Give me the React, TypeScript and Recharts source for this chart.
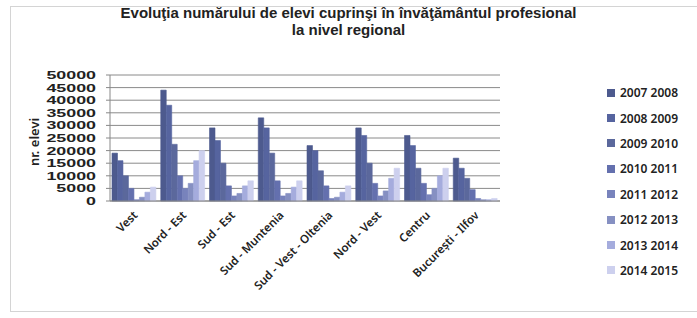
import React from "react";
import { BarChart, Bar, XAxis, YAxis, CartesianGrid, Legend } from "recharts";

const regions = ["Vest", "Nord - Est", "Sud - Est", "Sud - Muntenia", "Sud - Vest - Oltenia", "Nord - Vest", "Centru", "București - Ilfov"];
const years = ["2007 2008", "2008 2009", "2009 2010", "2010 2011", "2011 2012", "2012 2013", "2013 2014", "2014 2015"];
const colors = ["#4d5a8e", "#56649f", "#5b689c", "#6470ae", "#7883bc", "#8690c2", "#a5acdd", "#cdd0ee"];

const y2007 = [19000, 44000, 29000, 33000, 22000, 29000, 26000, 17000];
const y2008 = [16000, 38000, 24000, 29000, 20000, 26000, 22000, 13000];
const y2009 = [10000, 22500, 15000, 19000, 12000, 15000, 13000, 9000];
const y2010 = [5000, 10000, 6000, 8000, 6000, 7000, 7000, 4500];
const y2011 = [500, 5000, 2000, 2000, 1000, 2000, 2500, 1000];
const y2012 = [1500, 7000, 3000, 3000, 1500, 4000, 5000, 500];
const y2013 = [3500, 16000, 6000, 5500, 3500, 9000, 10000, 500];
const y2014 = [5500, 20000, 8000, 8000, 6000, 13000, 13000, 1000];
const series = [y2007, y2008, y2009, y2010, y2011, y2012, y2013, y2014];

const yTicks = [0, 5000, 10000, 15000, 20000, 25000, 30000, 35000, 40000, 45000, 50000];

const data = regions.map((r, i) => {
  const row: any = { region: r };
  series.forEach((s, k) => (row["s" + k] = s[i]));
  return row;
});

const font = "'Liberation Sans', Arial, sans-serif";
const legendFont = "'Noto Sans', 'Open Sans', sans-serif";

const XTick = (props: any) => {
  const { x, y, payload } = props;
  return (
    <g transform={`translate(${x + 4},${y + 7})`}>
      <text textAnchor="end" transform="rotate(-45)" fontSize={11.5} fontWeight={600} fill="#222" fontFamily={legendFont}>
        {payload.value}
      </text>
    </g>
  );
};

const YTick = (props: any) => {
  const { x, y, payload } = props;
  return (
    <g transform={`translate(${x - 8},${y}) scale(1.7,1)`}>
      <text textAnchor="end" dy={4} fontSize={10.5} fontWeight={700} fill="#222" fontFamily={font}>
        {payload.value}
      </text>
    </g>
  );
};

const LegendBox = () => (
  <div style={{ fontFamily: legendFont, fontSize: 12, fontWeight: 600, color: "#222" }}>
    {years.map((y, i) => (
      <div key={y} style={{ display: "flex", alignItems: "center", height: 25.4 }}>
        <span style={{ width: 8, height: 8, background: colors[i], marginRight: 5, display: "inline-block" }} />
        {y}
      </div>
    ))}
  </div>
);

export default function App() {
  return (
    <div style={{ position: "absolute", left: 0, top: 0, width: 697, height: 318, background: "#fff", fontFamily: font }}>
      <div style={{ position: "absolute", left: 10, top: 6, width: 690, height: 306, border: "1px solid #d4d4d4", boxSizing: "border-box" }} />
      <div style={{ position: "absolute", left: 0, top: 4, width: 697, textAlign: "center", fontSize: 15, fontWeight: 700, lineHeight: "17px", color: "#222" }}>
        Evoluţia numărului de elevi cuprinşi în învăţământul profesional
        <br />
        la nivel regional
      </div>
      <BarChart
        width={697}
        height={318}
        data={data}
        margin={{ top: 75, right: 107, bottom: 8, left: 50 }}
        barCategoryGap={4}
        barSize={7}
        barGap={0}
        style={{ position: "absolute", left: 0, top: 0 }}
      >
        <CartesianGrid vertical={false} stroke="#8a8a8a" />
        <XAxis dataKey="region" interval={0} tick={<XTick />} tickLine={false} axisLine={{ stroke: "#888" }} height={109} />
        <YAxis
          width={60}
          domain={[0, 50000]}
          ticks={yTicks}
          interval={0}
          tick={<YTick />}
          tickLine={{ stroke: "#888" }}
          tickSize={4}
          axisLine={{ stroke: "#888" }}
          label={{ value: "nr. elevi", angle: -90, position: "insideLeft", offset: -16, dy: 28, fontSize: 13, fontWeight: 600, fill: "#222", fontFamily: legendFont }}
        />
        <Legend layout="vertical" align="right" verticalAlign="top" content={<LegendBox />} wrapperStyle={{ top: 80, right: 0, width: 90 }} />
        {series.map((_, k) => (
          <Bar key={k} dataKey={"s" + k} name={years[k]} fill={colors[k]} stroke={colors[k]} strokeWidth={0.6} isAnimationActive={false} />
        ))}
      </BarChart>
    </div>
  );
}
